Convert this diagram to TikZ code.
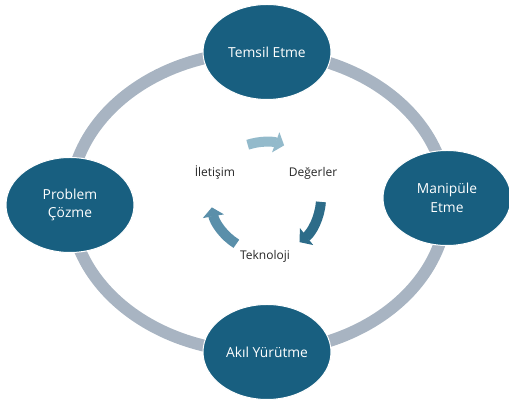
\documentclass[tikz,border=0pt]{standalone}
\usepackage{fontspec}
\setmainfont{Open Sans}
\usepackage{tikz}
\usetikzlibrary{arrows.meta,positioning,shapes.geometric}
\definecolor{SkillBlue}{HTML}{185F80}
\definecolor{RingGray}{HTML}{A8B4C2}
\definecolor{CycleLight}{HTML}{93BACB}
\definecolor{CycleMid}{HTML}{5A8FAA}
\definecolor{CycleDark}{HTML}{2D6C89}
\definecolor{LabelGray}{HTML}{262626}

\begin{document}
\begin{tikzpicture}[x=1pt,y=1pt, every node/.style={font=\fontsize{13.8}{18.5}\selectfont}, skill/.style={ellipse,draw=white,line width=1pt,fill=SkillBlue,text=white,minimum width=128pt,minimum height=95pt,inner sep=0pt,align=center}, inner/.style={text=LabelGray,font=\fontsize{12}{14}\selectfont}, cyc/.style={line width=10pt,-{Triangle[width=21pt,length=9pt]}}]
\useasboundingbox (0,0) rectangle (509,406);
% outer ring behind the four skills
\draw[RingGray,line width=12pt] (258.5,204) ellipse [x radius=188.5,y radius=150];
\node[skill] (temsil) at (267,354) {Temsil Etme};
\node[skill] (problem) at (70,201) {Problem\\Çözme};
\node[skill] (manipule) at (447,208) {Manipüle\\Etme};
\node[skill] (akil) at (267,54) {Akıl Yürütme};
% inner cycle
\coordinate (mid) at (265,208);
\node[inner] (iletisim) at (215,233) {İletişim};
\node[inner] (degerler) at (313,233) {Değerler};
\node[inner] (teknoloji) at (265,150) {Teknoloji};
\draw[cyc,CycleLight] ([shift={(108:56)}]mid) arc[start angle=108,end angle=70,radius=56];
\draw[cyc,CycleDark] ([shift={(-4:56)}]mid) arc[start angle=-4,end angle=-52,radius=56];
\draw[cyc,CycleMid] ([shift={(238:54)}]mid) arc[start angle=238,end angle=190,radius=54];
\end{tikzpicture}
\end{document}
